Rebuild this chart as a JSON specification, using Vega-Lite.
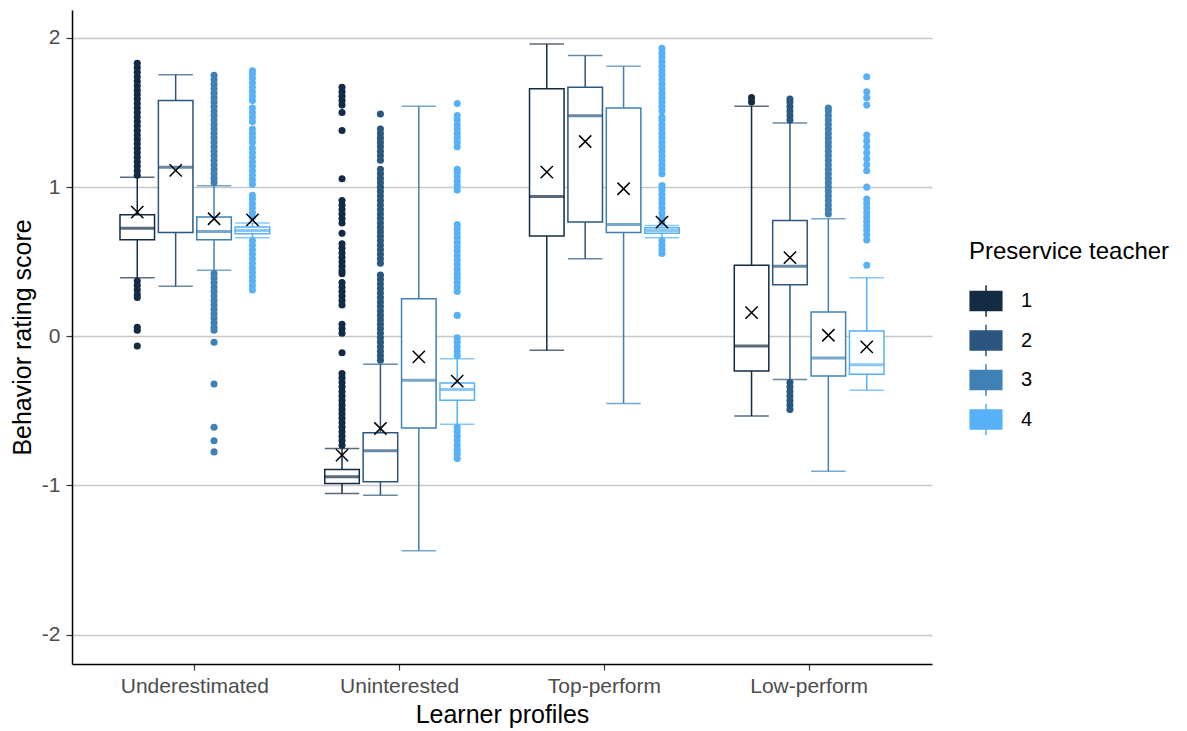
{
 "$schema": "https://vega.github.io/schema/vega-lite/v6.json",
 "width": 860,
 "height": 654,
 "autosize": {"type": "none"},
 "padding": {"left": 72, "top": 10, "right": 255, "bottom": 67},
 "background": "white",
 "config": {"font": "Liberation Sans", "view": {"stroke": null}},
 "datasets": {
  "stats": [
   {"p":"Underestimated","t":"1","lo":0.393,"q1":0.648,"med":0.725,"q3":0.815,"hi":1.067,"mean":0.833},
   {"p":"Underestimated","t":"2","lo":0.335,"q1":0.695,"med":1.134,"q3":1.58,"hi":1.753,"mean":1.112},
   {"p":"Underestimated","t":"3","lo":0.442,"q1":0.648,"med":0.703,"q3":0.80,"hi":1.009,"mean":0.788},
   {"p":"Underestimated","t":"4","lo":0.66,"q1":0.688,"med":0.71,"q3":0.732,"hi":0.76,"mean":0.78},
   {"p":"Uninterested","t":"1","lo":-1.054,"q1":-0.987,"med":-0.942,"q3":-0.893,"hi":-0.752,"mean":-0.797},
   {"p":"Uninterested","t":"2","lo":-1.065,"q1":-0.976,"med":-0.768,"q3":-0.647,"hi":-0.188,"mean":-0.618},
   {"p":"Uninterested","t":"3","lo":-1.438,"q1":-0.614,"med":-0.295,"q3":0.252,"hi":1.543,"mean":-0.138},
   {"p":"Uninterested","t":"4","lo":-0.589,"q1":-0.429,"med":-0.357,"q3":-0.313,"hi":-0.150,"mean":-0.301},
   {"p":"Top-perform","t":"1","lo":-0.094,"q1":0.672,"med":0.938,"q3":1.659,"hi":1.96,"mean":1.10},
   {"p":"Top-perform","t":"2","lo":0.52,"q1":0.766,"med":1.478,"q3":1.67,"hi":1.882,"mean":1.306},
   {"p":"Top-perform","t":"3","lo":-0.451,"q1":0.696,"med":0.75,"q3":1.531,"hi":1.81,"mean":0.989},
   {"p":"Top-perform","t":"4","lo":0.661,"q1":0.69,"med":0.71,"q3":0.727,"hi":0.743,"mean":0.766},
   {"p":"Low-perform","t":"1","lo":-0.534,"q1":-0.232,"med":-0.065,"q3":0.476,"hi":1.543,"mean":0.159},
   {"p":"Low-perform","t":"2","lo":-0.29,"q1":0.346,"med":0.469,"q3":0.777,"hi":1.43,"mean":0.527},
   {"p":"Low-perform","t":"3","lo":-0.904,"q1":-0.266,"med":-0.145,"q3":0.163,"hi":0.788,"mean":0.007},
   {"p":"Low-perform","t":"4","lo":-0.362,"q1":-0.254,"med":-0.19,"q3":0.036,"hi":0.393,"mean":-0.071}
  ],
  "out": [
   {"p":"Underestimated","t":"1","v":1.08},{"p":"Underestimated","t":"1","v":1.11},{"p":"Underestimated","t":"1","v":1.14},{"p":"Underestimated","t":"1","v":1.17},{"p":"Underestimated","t":"1","v":1.20},{"p":"Underestimated","t":"1","v":1.23},{"p":"Underestimated","t":"1","v":1.26},{"p":"Underestimated","t":"1","v":1.29},{"p":"Underestimated","t":"1","v":1.32},{"p":"Underestimated","t":"1","v":1.35},{"p":"Underestimated","t":"1","v":1.38},{"p":"Underestimated","t":"1","v":1.41},{"p":"Underestimated","t":"1","v":1.44},{"p":"Underestimated","t":"1","v":1.47},{"p":"Underestimated","t":"1","v":1.50},{"p":"Underestimated","t":"1","v":1.53},{"p":"Underestimated","t":"1","v":1.56},{"p":"Underestimated","t":"1","v":1.59},{"p":"Underestimated","t":"1","v":1.62},{"p":"Underestimated","t":"1","v":1.65},{"p":"Underestimated","t":"1","v":1.68},{"p":"Underestimated","t":"1","v":1.71},{"p":"Underestimated","t":"1","v":1.74},{"p":"Underestimated","t":"1","v":1.77},{"p":"Underestimated","t":"1","v":1.80},{"p":"Underestimated","t":"1","v":1.83},{"p":"Underestimated","t":"1","v":0.37},{"p":"Underestimated","t":"1","v":0.34},{"p":"Underestimated","t":"1","v":0.31},{"p":"Underestimated","t":"1","v":0.28},{"p":"Underestimated","t":"1","v":0.26},{"p":"Underestimated","t":"1","v":0.06},{"p":"Underestimated","t":"1","v":0.04},{"p":"Underestimated","t":"1","v":-0.065},
   {"p":"Underestimated","t":"3","v":1.03},{"p":"Underestimated","t":"3","v":1.06},{"p":"Underestimated","t":"3","v":1.09},{"p":"Underestimated","t":"3","v":1.12},{"p":"Underestimated","t":"3","v":1.15},{"p":"Underestimated","t":"3","v":1.18},{"p":"Underestimated","t":"3","v":1.21},{"p":"Underestimated","t":"3","v":1.24},{"p":"Underestimated","t":"3","v":1.27},{"p":"Underestimated","t":"3","v":1.30},{"p":"Underestimated","t":"3","v":1.33},{"p":"Underestimated","t":"3","v":1.36},{"p":"Underestimated","t":"3","v":1.39},{"p":"Underestimated","t":"3","v":1.42},{"p":"Underestimated","t":"3","v":1.45},{"p":"Underestimated","t":"3","v":1.48},{"p":"Underestimated","t":"3","v":1.51},{"p":"Underestimated","t":"3","v":1.54},{"p":"Underestimated","t":"3","v":1.57},{"p":"Underestimated","t":"3","v":1.60},{"p":"Underestimated","t":"3","v":1.63},{"p":"Underestimated","t":"3","v":1.66},{"p":"Underestimated","t":"3","v":1.69},{"p":"Underestimated","t":"3","v":1.72},{"p":"Underestimated","t":"3","v":1.75},{"p":"Underestimated","t":"3","v":0.42},{"p":"Underestimated","t":"3","v":0.39},{"p":"Underestimated","t":"3","v":0.36},{"p":"Underestimated","t":"3","v":0.33},{"p":"Underestimated","t":"3","v":0.30},{"p":"Underestimated","t":"3","v":0.27},{"p":"Underestimated","t":"3","v":0.24},{"p":"Underestimated","t":"3","v":0.21},{"p":"Underestimated","t":"3","v":0.18},{"p":"Underestimated","t":"3","v":0.15},{"p":"Underestimated","t":"3","v":0.12},{"p":"Underestimated","t":"3","v":0.09},{"p":"Underestimated","t":"3","v":0.06},{"p":"Underestimated","t":"3","v":0.04},{"p":"Underestimated","t":"3","v":-0.04},{"p":"Underestimated","t":"3","v":-0.32},{"p":"Underestimated","t":"3","v":-0.61},{"p":"Underestimated","t":"3","v":-0.70},{"p":"Underestimated","t":"3","v":-0.775},
   {"p":"Underestimated","t":"4","v":0.80},{"p":"Underestimated","t":"4","v":0.83},{"p":"Underestimated","t":"4","v":0.86},{"p":"Underestimated","t":"4","v":0.89},{"p":"Underestimated","t":"4","v":0.92},{"p":"Underestimated","t":"4","v":0.945},{"p":"Underestimated","t":"4","v":1.02},{"p":"Underestimated","t":"4","v":1.05},{"p":"Underestimated","t":"4","v":1.08},{"p":"Underestimated","t":"4","v":1.11},{"p":"Underestimated","t":"4","v":1.14},{"p":"Underestimated","t":"4","v":1.17},{"p":"Underestimated","t":"4","v":1.20},{"p":"Underestimated","t":"4","v":1.23},{"p":"Underestimated","t":"4","v":1.26},{"p":"Underestimated","t":"4","v":1.30},{"p":"Underestimated","t":"4","v":1.33},{"p":"Underestimated","t":"4","v":1.36},{"p":"Underestimated","t":"4","v":1.39},{"p":"Underestimated","t":"4","v":1.44},{"p":"Underestimated","t":"4","v":1.47},{"p":"Underestimated","t":"4","v":1.50},{"p":"Underestimated","t":"4","v":1.53},{"p":"Underestimated","t":"4","v":1.58},{"p":"Underestimated","t":"4","v":1.61},{"p":"Underestimated","t":"4","v":1.64},{"p":"Underestimated","t":"4","v":1.67},{"p":"Underestimated","t":"4","v":1.70},{"p":"Underestimated","t":"4","v":1.73},{"p":"Underestimated","t":"4","v":1.76},{"p":"Underestimated","t":"4","v":1.78},{"p":"Underestimated","t":"4","v":0.64},{"p":"Underestimated","t":"4","v":0.61},{"p":"Underestimated","t":"4","v":0.58},{"p":"Underestimated","t":"4","v":0.55},{"p":"Underestimated","t":"4","v":0.52},{"p":"Underestimated","t":"4","v":0.49},{"p":"Underestimated","t":"4","v":0.46},{"p":"Underestimated","t":"4","v":0.43},{"p":"Underestimated","t":"4","v":0.40},{"p":"Underestimated","t":"4","v":0.37},{"p":"Underestimated","t":"4","v":0.34},{"p":"Underestimated","t":"4","v":0.31},
   {"p":"Uninterested","t":"1","v":-0.73},{"p":"Uninterested","t":"1","v":-0.70},{"p":"Uninterested","t":"1","v":-0.67},{"p":"Uninterested","t":"1","v":-0.64},{"p":"Uninterested","t":"1","v":-0.61},{"p":"Uninterested","t":"1","v":-0.58},{"p":"Uninterested","t":"1","v":-0.55},{"p":"Uninterested","t":"1","v":-0.52},{"p":"Uninterested","t":"1","v":-0.49},{"p":"Uninterested","t":"1","v":-0.46},{"p":"Uninterested","t":"1","v":-0.43},{"p":"Uninterested","t":"1","v":-0.40},{"p":"Uninterested","t":"1","v":-0.37},{"p":"Uninterested","t":"1","v":-0.34},{"p":"Uninterested","t":"1","v":-0.31},{"p":"Uninterested","t":"1","v":-0.28},{"p":"Uninterested","t":"1","v":-0.25},{"p":"Uninterested","t":"1","v":-0.11},{"p":"Uninterested","t":"1","v":0.08},{"p":"Uninterested","t":"1","v":0.05},{"p":"Uninterested","t":"1","v":0.02},{"p":"Uninterested","t":"1","v":0.36},{"p":"Uninterested","t":"1","v":0.33},{"p":"Uninterested","t":"1","v":0.30},{"p":"Uninterested","t":"1","v":0.27},{"p":"Uninterested","t":"1","v":0.24},{"p":"Uninterested","t":"1","v":0.21},{"p":"Uninterested","t":"1","v":0.62},{"p":"Uninterested","t":"1","v":0.59},{"p":"Uninterested","t":"1","v":0.56},{"p":"Uninterested","t":"1","v":0.53},{"p":"Uninterested","t":"1","v":0.50},{"p":"Uninterested","t":"1","v":0.47},{"p":"Uninterested","t":"1","v":0.44},{"p":"Uninterested","t":"1","v":0.42},{"p":"Uninterested","t":"1","v":0.69},{"p":"Uninterested","t":"1","v":0.91},{"p":"Uninterested","t":"1","v":0.88},{"p":"Uninterested","t":"1","v":0.85},{"p":"Uninterested","t":"1","v":0.82},{"p":"Uninterested","t":"1","v":0.79},{"p":"Uninterested","t":"1","v":0.76},{"p":"Uninterested","t":"1","v":1.056},{"p":"Uninterested","t":"1","v":1.38},{"p":"Uninterested","t":"1","v":1.50},{"p":"Uninterested","t":"1","v":1.55},{"p":"Uninterested","t":"1","v":1.58},{"p":"Uninterested","t":"1","v":1.61},{"p":"Uninterested","t":"1","v":1.64},{"p":"Uninterested","t":"1","v":1.67},
   {"p":"Uninterested","t":"2","v":-0.16},{"p":"Uninterested","t":"2","v":-0.13},{"p":"Uninterested","t":"2","v":-0.10},{"p":"Uninterested","t":"2","v":-0.07},{"p":"Uninterested","t":"2","v":-0.04},{"p":"Uninterested","t":"2","v":-0.01},{"p":"Uninterested","t":"2","v":0.02},{"p":"Uninterested","t":"2","v":0.05},{"p":"Uninterested","t":"2","v":0.08},{"p":"Uninterested","t":"2","v":0.11},{"p":"Uninterested","t":"2","v":0.14},{"p":"Uninterested","t":"2","v":0.17},{"p":"Uninterested","t":"2","v":0.20},{"p":"Uninterested","t":"2","v":0.23},{"p":"Uninterested","t":"2","v":0.26},{"p":"Uninterested","t":"2","v":0.29},{"p":"Uninterested","t":"2","v":0.32},{"p":"Uninterested","t":"2","v":0.35},{"p":"Uninterested","t":"2","v":0.38},{"p":"Uninterested","t":"2","v":0.41},{"p":"Uninterested","t":"2","v":0.49},{"p":"Uninterested","t":"2","v":0.52},{"p":"Uninterested","t":"2","v":0.55},{"p":"Uninterested","t":"2","v":0.58},{"p":"Uninterested","t":"2","v":0.61},{"p":"Uninterested","t":"2","v":0.64},{"p":"Uninterested","t":"2","v":0.67},{"p":"Uninterested","t":"2","v":0.70},{"p":"Uninterested","t":"2","v":0.73},{"p":"Uninterested","t":"2","v":0.76},{"p":"Uninterested","t":"2","v":0.79},{"p":"Uninterested","t":"2","v":0.82},{"p":"Uninterested","t":"2","v":0.85},{"p":"Uninterested","t":"2","v":0.88},{"p":"Uninterested","t":"2","v":0.91},{"p":"Uninterested","t":"2","v":0.94},{"p":"Uninterested","t":"2","v":0.97},{"p":"Uninterested","t":"2","v":1.00},{"p":"Uninterested","t":"2","v":1.03},{"p":"Uninterested","t":"2","v":1.06},{"p":"Uninterested","t":"2","v":1.09},{"p":"Uninterested","t":"2","v":1.12},{"p":"Uninterested","t":"2","v":1.18},{"p":"Uninterested","t":"2","v":1.21},{"p":"Uninterested","t":"2","v":1.24},{"p":"Uninterested","t":"2","v":1.27},{"p":"Uninterested","t":"2","v":1.30},{"p":"Uninterested","t":"2","v":1.33},{"p":"Uninterested","t":"2","v":1.36},{"p":"Uninterested","t":"2","v":1.39},{"p":"Uninterested","t":"2","v":1.49},
   {"p":"Uninterested","t":"4","v":-0.13},{"p":"Uninterested","t":"4","v":-0.10},{"p":"Uninterested","t":"4","v":-0.07},{"p":"Uninterested","t":"4","v":-0.04},{"p":"Uninterested","t":"4","v":-0.01},{"p":"Uninterested","t":"4","v":0.14},{"p":"Uninterested","t":"4","v":0.30},{"p":"Uninterested","t":"4","v":0.33},{"p":"Uninterested","t":"4","v":0.36},{"p":"Uninterested","t":"4","v":0.39},{"p":"Uninterested","t":"4","v":0.42},{"p":"Uninterested","t":"4","v":0.45},{"p":"Uninterested","t":"4","v":0.48},{"p":"Uninterested","t":"4","v":0.51},{"p":"Uninterested","t":"4","v":0.54},{"p":"Uninterested","t":"4","v":0.57},{"p":"Uninterested","t":"4","v":0.60},{"p":"Uninterested","t":"4","v":0.63},{"p":"Uninterested","t":"4","v":0.66},{"p":"Uninterested","t":"4","v":0.69},{"p":"Uninterested","t":"4","v":0.72},{"p":"Uninterested","t":"4","v":0.75},{"p":"Uninterested","t":"4","v":0.98},{"p":"Uninterested","t":"4","v":1.01},{"p":"Uninterested","t":"4","v":1.04},{"p":"Uninterested","t":"4","v":1.07},{"p":"Uninterested","t":"4","v":1.10},{"p":"Uninterested","t":"4","v":1.12},{"p":"Uninterested","t":"4","v":1.27},{"p":"Uninterested","t":"4","v":1.30},{"p":"Uninterested","t":"4","v":1.33},{"p":"Uninterested","t":"4","v":1.36},{"p":"Uninterested","t":"4","v":1.39},{"p":"Uninterested","t":"4","v":1.42},{"p":"Uninterested","t":"4","v":1.45},{"p":"Uninterested","t":"4","v":1.48},{"p":"Uninterested","t":"4","v":1.56},{"p":"Uninterested","t":"4","v":-0.61},{"p":"Uninterested","t":"4","v":-0.64},{"p":"Uninterested","t":"4","v":-0.67},{"p":"Uninterested","t":"4","v":-0.70},{"p":"Uninterested","t":"4","v":-0.73},{"p":"Uninterested","t":"4","v":-0.76},{"p":"Uninterested","t":"4","v":-0.79},{"p":"Uninterested","t":"4","v":-0.82},
   {"p":"Top-perform","t":"4","v":0.77},{"p":"Top-perform","t":"4","v":0.80},{"p":"Top-perform","t":"4","v":0.83},{"p":"Top-perform","t":"4","v":0.86},{"p":"Top-perform","t":"4","v":0.89},{"p":"Top-perform","t":"4","v":0.92},{"p":"Top-perform","t":"4","v":0.95},{"p":"Top-perform","t":"4","v":0.98},{"p":"Top-perform","t":"4","v":1.01},{"p":"Top-perform","t":"4","v":1.09},{"p":"Top-perform","t":"4","v":1.12},{"p":"Top-perform","t":"4","v":1.15},{"p":"Top-perform","t":"4","v":1.18},{"p":"Top-perform","t":"4","v":1.21},{"p":"Top-perform","t":"4","v":1.24},{"p":"Top-perform","t":"4","v":1.27},{"p":"Top-perform","t":"4","v":1.30},{"p":"Top-perform","t":"4","v":1.33},{"p":"Top-perform","t":"4","v":1.36},{"p":"Top-perform","t":"4","v":1.39},{"p":"Top-perform","t":"4","v":1.42},{"p":"Top-perform","t":"4","v":1.45},{"p":"Top-perform","t":"4","v":1.47},{"p":"Top-perform","t":"4","v":1.51},{"p":"Top-perform","t":"4","v":1.54},{"p":"Top-perform","t":"4","v":1.57},{"p":"Top-perform","t":"4","v":1.60},{"p":"Top-perform","t":"4","v":1.63},{"p":"Top-perform","t":"4","v":1.66},{"p":"Top-perform","t":"4","v":1.69},{"p":"Top-perform","t":"4","v":1.72},{"p":"Top-perform","t":"4","v":1.75},{"p":"Top-perform","t":"4","v":1.78},{"p":"Top-perform","t":"4","v":1.81},{"p":"Top-perform","t":"4","v":1.84},{"p":"Top-perform","t":"4","v":1.87},{"p":"Top-perform","t":"4","v":1.90},{"p":"Top-perform","t":"4","v":1.93},{"p":"Top-perform","t":"4","v":0.64},{"p":"Top-perform","t":"4","v":0.61},{"p":"Top-perform","t":"4","v":0.58},{"p":"Top-perform","t":"4","v":0.555},
   {"p":"Low-perform","t":"1","v":1.57},{"p":"Low-perform","t":"1","v":1.60},
   {"p":"Low-perform","t":"2","v":1.45},{"p":"Low-perform","t":"2","v":1.48},{"p":"Low-perform","t":"2","v":1.51},{"p":"Low-perform","t":"2","v":1.54},{"p":"Low-perform","t":"2","v":1.57},{"p":"Low-perform","t":"2","v":1.59},{"p":"Low-perform","t":"2","v":-0.31},{"p":"Low-perform","t":"2","v":-0.34},{"p":"Low-perform","t":"2","v":-0.37},{"p":"Low-perform","t":"2","v":-0.40},{"p":"Low-perform","t":"2","v":-0.43},{"p":"Low-perform","t":"2","v":-0.46},{"p":"Low-perform","t":"2","v":-0.49},
   {"p":"Low-perform","t":"3","v":0.82},{"p":"Low-perform","t":"3","v":0.85},{"p":"Low-perform","t":"3","v":0.88},{"p":"Low-perform","t":"3","v":0.91},{"p":"Low-perform","t":"3","v":0.94},{"p":"Low-perform","t":"3","v":0.97},{"p":"Low-perform","t":"3","v":1.00},{"p":"Low-perform","t":"3","v":1.03},{"p":"Low-perform","t":"3","v":1.06},{"p":"Low-perform","t":"3","v":1.09},{"p":"Low-perform","t":"3","v":1.12},{"p":"Low-perform","t":"3","v":1.15},{"p":"Low-perform","t":"3","v":1.18},{"p":"Low-perform","t":"3","v":1.21},{"p":"Low-perform","t":"3","v":1.24},{"p":"Low-perform","t":"3","v":1.27},{"p":"Low-perform","t":"3","v":1.30},{"p":"Low-perform","t":"3","v":1.33},{"p":"Low-perform","t":"3","v":1.36},{"p":"Low-perform","t":"3","v":1.39},{"p":"Low-perform","t":"3","v":1.42},{"p":"Low-perform","t":"3","v":1.45},{"p":"Low-perform","t":"3","v":1.48},{"p":"Low-perform","t":"3","v":1.51},{"p":"Low-perform","t":"3","v":1.53},
   {"p":"Low-perform","t":"4","v":1.74},{"p":"Low-perform","t":"4","v":1.64},{"p":"Low-perform","t":"4","v":1.60},{"p":"Low-perform","t":"4","v":1.55},{"p":"Low-perform","t":"4","v":1.35},{"p":"Low-perform","t":"4","v":1.31},{"p":"Low-perform","t":"4","v":1.27},{"p":"Low-perform","t":"4","v":1.23},{"p":"Low-perform","t":"4","v":1.19},{"p":"Low-perform","t":"4","v":1.15},{"p":"Low-perform","t":"4","v":1.11},{"p":"Low-perform","t":"4","v":1.00},{"p":"Low-perform","t":"4","v":0.92},{"p":"Low-perform","t":"4","v":0.89},{"p":"Low-perform","t":"4","v":0.86},{"p":"Low-perform","t":"4","v":0.83},{"p":"Low-perform","t":"4","v":0.80},{"p":"Low-perform","t":"4","v":0.77},{"p":"Low-perform","t":"4","v":0.74},{"p":"Low-perform","t":"4","v":0.71},{"p":"Low-perform","t":"4","v":0.68},{"p":"Low-perform","t":"4","v":0.645},{"p":"Low-perform","t":"4","v":0.476}
  ]
 },
 "encoding": {
  "x": {"field": "p", "type": "nominal", "sort": ["Underestimated","Uninterested","Top-perform","Low-perform"],
        "scale": {"paddingInner": 0.25, "paddingOuter": 0.225},
        "title": "Learner profiles",
        "axis": {"labelAngle": 0, "grid": false, "domainColor": "black", "domainWidth": 1.5, "tickColor": "#333333", "tickWidth": 1.2, "tickSize": 6,
                 "labelFontSize": 21, "labelColor": "#4D4D4D", "labelPadding": 5, "titleFontSize": 25, "titleFontWeight": "normal", "titleColor": "black", "titlePadding": 6}},
  "xOffset": {"field": "t", "type": "nominal", "scale": {"domain": ["1","2","3","4"], "paddingInner": 0.1, "paddingOuter": 0.05}}
 },
 "layer": [
  {"data": {"name": "stats"}, "mark": {"type": "rule", "strokeWidth": 1.5},
   "encoding": {"y": {"field": "lo", "type": "quantitative", "title": "Behavior rating score",
                      "scale": {"domain": [-2.197, 2.1875], "nice": false, "zero": false},
                      "axis": {"values": [-2,-1,0,1,2], "grid": true, "gridColor": "#C8C8C8", "gridWidth": 1.5, "domainColor": "black", "domainWidth": 1.5,
                               "tickColor": "#333333", "tickWidth": 1.2, "tickSize": 6, "labelFontSize": 21, "labelColor": "#4D4D4D", "labelPadding": 6,
                               "labelExpr": "toString(datum.value)", "titleFontSize": 25, "titleFontWeight": "normal", "titleColor": "black", "titlePadding": 6}},
                "y2": {"field": "hi"},
                "color": {"field": "t", "type": "nominal", "title": "Preservice teacher",
                           "scale": {"domain": ["1","2","3","4"], "range": ["#132B43","#2A5680","#3F81B5","#56B1F7"]},
                           "legend": {"orient": "none", "legendX": 897, "legendY": 230, "padding": 0, "titleLimit": 400,
                                      "titleFontSize": 24, "titleFontWeight": "normal", "titleColor": "black", "titlePadding": 20,
                                      "labelFontSize": 20, "labelColor": "black", "labelOffset": 18, "rowPadding": 1.5,
                                      "symbolType": "M-1,-0.6H1V0.6H-1Z M-1,0H1 M0,-0.6V-1 M0,0.6V1", "symbolSize": 1000, "symbolStrokeWidth": 1.5,
                                      "symbolFillColor": "white"}}}},
  {"data": {"name": "stats"}, "mark": {"type": "tick", "size": 34.5, "thickness": 1.5},
   "encoding": {"y": {"field": "lo", "type": "quantitative"},
                "fill": {"field": "t", "type": "nominal", "scale": {"domain": ["1","2","3","4"], "range": ["#132B43","#2A5680","#3F81B5","#56B1F7"]}, "legend": null}}},
  {"data": {"name": "stats"}, "mark": {"type": "tick", "size": 34.5, "thickness": 1.5},
   "encoding": {"y": {"field": "hi", "type": "quantitative"},
                "fill": {"field": "t", "type": "nominal", "legend": null}}},
  {"data": {"name": "stats"}, "mark": {"type": "bar", "fill": "white", "strokeWidth": 1.5},
   "encoding": {"y": {"field": "q1", "type": "quantitative"}, "y2": {"field": "q3"},
                "stroke": {"field": "t", "type": "nominal", "scale": {"domain": ["1","2","3","4"], "range": ["#132B43","#2A5680","#3F81B5","#56B1F7"]}, "legend": null}}},
  {"data": {"name": "stats"}, "mark": {"type": "tick", "size": 34.5, "thickness": 3},
   "encoding": {"y": {"field": "med", "type": "quantitative"},
                "fill": {"field": "t", "type": "nominal", "legend": null}}},
  {"data": {"name": "out"}, "mark": {"type": "circle", "size": 50, "opacity": 1},
   "encoding": {"y": {"field": "v", "type": "quantitative"},
                "fill": {"field": "t", "type": "nominal", "legend": null}}},
  {"data": {"name": "stats"}, "mark": {"type": "point", "shape": "M-1,-1L1,1M-1,1L1,-1", "filled": false, "size": 150, "strokeWidth": 1.5, "opacity": 1, "color": "black"},
   "encoding": {"y": {"field": "mean", "type": "quantitative"}}}
 ]
}
